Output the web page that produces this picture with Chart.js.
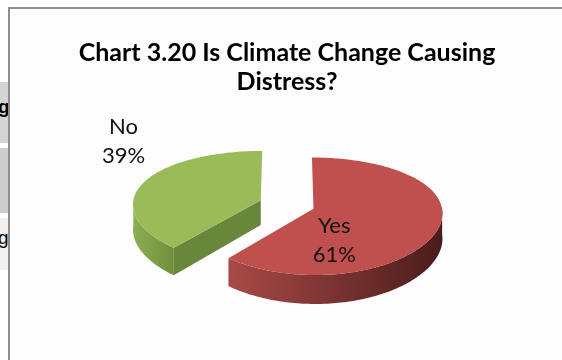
<!DOCTYPE html>
<html>
<head>
<meta charset="utf-8">
<script src="https://cdn.jsdelivr.net/npm/chart.js@4.4.1/dist/chart.umd.min.js"></script>
<style>
  body { margin: 0; width: 562px; height: 360px; overflow: hidden; position: relative; background: #fff; font-family: Lato, sans-serif; }
  .frame { position: absolute; left: 8px; top: 7px; width: 600px; height: 400px; border-left: 2px solid #8e8e8e; border-top: 2px solid #8e8e8e; background: #fdfdfd; }
  .strip { position: absolute; left: 0; width: 8px; overflow: hidden; }
  .strip span { position: absolute; left: -2px; color: #000; font-family: "Liberation Sans", sans-serif; }
  canvas { position: absolute; left: 0; top: 0; }
</style>
</head>
<body>
<div class="strip" style="top:82px;height:61px;background:#d4d4d4"><span style="top:14px;font-size:19px;font-weight:bold">g</span></div>
<div class="strip" style="top:148px;height:65px;background:#cdcdcd"></div>
<div class="strip" style="top:218px;height:52px;background:#f1f1f1"><span style="top:9px;font-size:19px">g</span></div>
<div class="frame"></div>
<canvas id="pieChart" width="562" height="360"></canvas>
<script>
// chart data
const categories = ['Yes', 'No'];
const shares = [61, 39];
const titleLines = ['Chart 3.20 Is Climate Change Causing', 'Distress?'];

// look
const topColors = ['#C0504D', '#9BBB59'];
const wallLeft = ['#a84a47', '#8eaf50'];
const wallRight = ['#4a1c1b', '#6f8e3d'];
const edgeColors = ['#7a2f2d', '#68873a'];
const labelSpots = [{ r: 0.54, deg: 74 }, { r: 1.68, deg: 226 }];

const TILT = 0.443, PERSP = 0.127, XPERSP = 0.5, DEPTH = 25, EXPLODE = 28;

function project(cx, cy, R, px, py) {
    const p = 1 / (1 - PERSP * py / R);
    return { x: cx + px * (1 + XPERSP * (p - 1)), y: cy + py * TILT * p, p: p };
}

function sliceGeometry(arc) {
    const g = arc.getProps(['x', 'y', 'startAngle', 'endAngle', 'outerRadius'], true);
    const mid = (g.startAngle + g.endAngle) / 2;
    g.ox = Math.cos(mid) * EXPLODE;
    g.oy = Math.sin(mid) * EXPLODE;
    g.mid = mid;
    return g;
}

function drawSlice(ctx, arc, i) {
    const g = sliceGeometry(arc);
    const R = g.outerRadius;
    const P = (px, py) => project(g.x, g.y, R, px, py);
    const steps = Math.max(8, Math.ceil((g.endAngle - g.startAngle) / 0.02));
    const rim = [];
    for (let s = 0; s <= steps; s++) {
        const a = g.startAngle + (g.endAngle - g.startAngle) * s / steps;
        const pt = P(g.ox + R * Math.cos(a), g.oy + R * Math.sin(a));
        pt.a = a;
        rim.push(pt);
    }
    const apex = P(g.ox, g.oy);
    const drop = pt => pt.y + DEPTH * pt.p;

    // flat side walls facing the viewer
    [[rim[0], g.startAngle - Math.PI / 2], [rim[rim.length - 1], g.endAngle + Math.PI / 2]].forEach(([edge, n]) => {
        if (Math.sin(n) <= 0.02) return;
        ctx.beginPath();
        ctx.moveTo(apex.x, apex.y);
        ctx.lineTo(edge.x, edge.y);
        ctx.lineTo(edge.x, drop(edge));
        ctx.lineTo(apex.x, drop(apex));
        ctx.closePath();
        ctx.fillStyle = edgeColors[i];
        ctx.fill();
    });

    // curved outer wall
    const front = rim.filter(pt => Math.sin(pt.a) > 0);
    if (front.length > 1) {
        const xs = front.map(pt => pt.x);
        const grad = ctx.createLinearGradient(Math.min(...xs), 0, Math.max(...xs), 0);
        grad.addColorStop(0, wallLeft[i]);
        grad.addColorStop(1, wallRight[i]);
        ctx.beginPath();
        front.forEach((pt, k) => k ? ctx.lineTo(pt.x, pt.y) : ctx.moveTo(pt.x, pt.y));
        for (let k = front.length - 1; k >= 0; k--) ctx.lineTo(front[k].x, drop(front[k]));
        ctx.closePath();
        ctx.fillStyle = grad;
        ctx.fill();
    }

    // top face
    ctx.beginPath();
    ctx.moveTo(apex.x, apex.y);
    rim.forEach(pt => ctx.lineTo(pt.x, pt.y));
    ctx.closePath();
    ctx.fillStyle = topColors[i];
    ctx.fill();
}

const pie3d = {
    id: 'pie3d',
    beforeDatasetsDraw(chart) {
        const ctx = chart.ctx;
        const arcs = chart.getDatasetMeta(0).data;
        const order = arcs.map((a, i) => i).sort((a, b) =>
            Math.sin(sliceGeometry(arcs[a]).mid) - Math.sin(sliceGeometry(arcs[b]).mid));
        ctx.save();
        order.forEach(i => drawSlice(ctx, arcs[i], i));

        // data labels
        ctx.font = '22px Lato';
        ctx.fillStyle = '#111';
        ctx.textAlign = 'center';
        ctx.textBaseline = 'middle';
        arcs.forEach((arc, i) => {
            const g = sliceGeometry(arc);
            const spot = labelSpots[i];
            const a = spot.deg * Math.PI / 180;
            const R = g.outerRadius;
            const pos = project(g.x, g.y, R, g.ox + spot.r * R * Math.cos(a), g.oy + spot.r * R * Math.sin(a));
            ctx.fillText(categories[i], pos.x, pos.y - 15);
            ctx.fillText(shares[i] + '%', pos.x, pos.y + 14);
        });
        ctx.restore();
        return false;
    }
};

// fit title font to the reference width
const probe = document.createElement('canvas').getContext('2d');
probe.font = 'bold 100px Lato';
const titleSize = Math.round(417 / probe.measureText(titleLines[0]).width * 100 * 10) / 10;

new Chart(document.getElementById('pieChart'), {
    type: 'pie',
    data: {
        labels: categories,
        datasets: [{
            data: shares,
            backgroundColor: topColors,
            borderWidth: 0,
            radius: 128
        }]
    },
    options: {
        responsive: false,
        animation: false,
        events: [],
        layout: { padding: { left: 12, right: 0, top: 0, bottom: 47 } },
        plugins: {
            legend: { display: false },
            tooltip: { enabled: false },
            title: {
                display: true,
                text: titleLines,
                color: '#000',
                font: { family: 'Lato', weight: 'bold', size: titleSize, lineHeight: 29 / titleSize },
                padding: { top: 38, bottom: 0 }
            }
        }
    },
    plugins: [pie3d]
});
</script>
</body>
</html>
